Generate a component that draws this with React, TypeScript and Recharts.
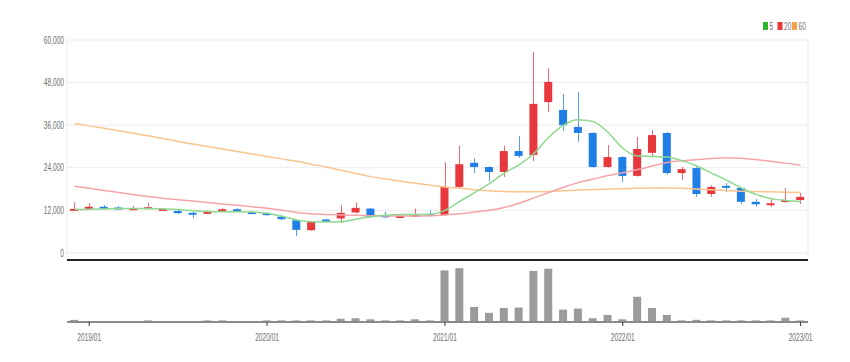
import {
  ComposedChart,
  Bar,
  Line,
  XAxis,
  YAxis,
  CartesianGrid,
  ReferenceLine,
} from "recharts";

const months = [
  "2018/12",
  "2019/01", "2019/02", "2019/03", "2019/04", "2019/05", "2019/06",
  "2019/07", "2019/08", "2019/09", "2019/10", "2019/11", "2019/12",
  "2020/01", "2020/02", "2020/03", "2020/04", "2020/05", "2020/06",
  "2020/07", "2020/08", "2020/09", "2020/10", "2020/11", "2020/12",
  "2021/01", "2021/02", "2021/03", "2021/04", "2021/05", "2021/06",
  "2021/07", "2021/08", "2021/09", "2021/10", "2021/11", "2021/12",
  "2022/01", "2022/02", "2022/03", "2022/04", "2022/05", "2022/06",
  "2022/07", "2022/08", "2022/09", "2022/10", "2022/11", "2022/12",
  "2023/01",
];

const opens = [
  12000, 12400, 13000, 12800, 12300, 12500, 12000, 11800, 11300, 11000,
  11900, 12300, 11500, 11200, 10200, 9200, 6400, 9400, 9700, 11400,
  12500, 10600, 10000, 10300, 11000, 10700, 18600, 25400, 24200, 22800,
  28700, 27600, 42500, 40300, 35500, 33800, 24200, 27000, 21700, 28200,
  33800, 22500, 23900, 16600, 18900, 18300, 14400, 13700, 14400, 14900,
];
const closes = [
  12400, 13000, 12800, 12500, 12600, 12900, 12400, 11200, 10800, 11800,
  12300, 11800, 11200, 10800, 9500, 6500, 8700, 9100, 11300, 12700,
  10100, 10400, 10400, 10800, 10600, 18600, 25000, 24200, 22800, 28700,
  27300, 42000, 48200, 36000, 33800, 24200, 27000, 21700, 29300, 33200,
  22500, 23600, 16600, 18600, 18600, 14400, 13700, 14000, 14900, 15800,
];
const highs = [
  14300, 14000, 13500, 13200, 13200, 14100, 12700, 12200, 11500, 12000,
  12600, 12600, 11700, 11400, 10600, 9400, 9000, 9600, 13400, 14200,
  12600, 11600, 10700, 12500, 12000, 25600, 30200, 26700, 24400, 30200,
  33000, 56600, 52000, 44800, 45300, 34000, 30400, 27300, 32700, 34600,
  34100, 24200, 24200, 19000, 19700, 18600, 15200, 15300, 18300, 16900,
];
const lows = [
  11900, 12200, 12500, 12300, 12100, 12400, 11800, 10900, 9800, 10900,
  11700, 11600, 11000, 10500, 9200, 4700, 6200, 8900, 8400, 11100,
  9900, 9800, 10000, 10200, 10200, 10500, 18300, 22500, 20100, 21400,
  26800, 25800, 39700, 34400, 31300, 24000, 24000, 20000, 21500, 27000,
  22000, 20600, 15800, 15800, 17200, 13800, 13000, 13000, 14200, 13800,
];

const ma5 = [
  12200, 12300, 12400, 12500, 12500, 12500, 12400, 12200, 11900, 11700,
  11600, 11600, 11500, 11200, 10300, 9300, 8800, 8700, 8800, 9500,
  10200, 10600, 10800, 10800, 10900, 12000, 14500, 17000, 19500, 22500,
  24800, 28000, 32500, 36000, 37500, 37000, 34000, 29500, 27300, 27200,
  27000, 26000, 24500, 22500, 20500, 18300, 16500, 15300, 14800, 14500,
];
const ma20 = [
  18800, 18200, 17600, 17000, 16400, 15900, 15400, 15000, 14600, 14200,
  13800, 13400, 13000, 12600, 12000, 11400, 11000, 10800, 10700, 10600,
  10500, 10400, 10400, 10400, 10500, 10700, 11000, 11500, 12000, 12800,
  14000, 15500, 17000, 18500, 19800, 20800, 21800, 22600, 23500, 24500,
  25500, 26000, 26300, 26600, 26800, 26700, 26300, 25800, 25300, 24700,
];
const ma60 = [
  36500, 35800, 35100, 34400, 33700, 33000, 32200, 31400, 30700, 30000,
  29300, 28600, 27900, 27200, 26500, 25800, 25000, 24200, 23300, 22400,
  21500, 20800, 20200, 19600, 19100, 18600, 18200, 17800, 17500, 17300,
  17200, 17200, 17300, 17500, 17700, 17900, 18000, 18100, 18200, 18300,
  18300, 18200, 18000, 17800, 17600, 17400, 17300, 17200, 17100, 17000,
];

const volumes = [
  4, 0, 0, 0, 0, 3, 0, 0, 0, 3,
  3, 0, 0, 3, 3, 3, 3, 3, 6, 7,
  5, 3, 3, 5, 3, 96, 100, 28, 17, 26,
  27, 95, 99, 23, 25, 7, 13, 5, 47, 26,
  13, 3, 4, 3, 3, 3, 3, 3, 8, 3,
];

const yTicks = [0, 12000, 24000, 36000, 48000, 60000];
const yearTicks = ["2019/01", "2020/01", "2021/01", "2022/01", "2023/01"];

const UP = "#e8383d";
const DOWN = "#1f7fe6";
const FONT = '"Liberation Sans", Arial, sans-serif';
const SQUEEZE = 0.6;

const rows = months.map((m, i) => ({
  m,
  open: opens[i],
  close: closes[i],
  high: highs[i],
  low: lows[i],
  ma5: ma5[i],
  ma20: ma20[i],
  ma60: ma60[i],
  vol: volumes[i],
}));

const Candle = (props: any) => {
  const { x, y, width, height, payload } = props;
  if (x == null || y == null) return null;
  const top = Math.min(y, y + height);
  const h = Math.abs(height);
  const { open, close, high, low } = payload;
  const color = close >= open ? UP : DOWN;
  const span = high - low || 1;
  const yOf = (v: number) => top + ((high - v) / span) * h;
  const bTop = yOf(Math.max(open, close));
  const bBot = yOf(Math.min(open, close));
  const cx = Math.round(x + width / 2) + 0.5;
  return (
    <g>
      <line x1={cx} x2={cx} y1={top} y2={top + h} stroke={color} strokeOpacity={0.75} strokeWidth={1} />
      <rect x={x} y={bTop} width={width} height={Math.max(bBot - bTop, 2)} fill={color} />
    </g>
  );
};

// narrow labels, like the original's condensed font
const YTick = ({ x, y, payload }: any) => (
  <text
    transform={`translate(${x},${y}) scale(${SQUEEZE},1)`}
    textAnchor="end"
    dominantBaseline="central"
    fontSize={11}
    fill="#6f6f6f"
    fontFamily={FONT}
  >
    {payload.value.toLocaleString("en-US")}
  </text>
);

const XTick = ({ x, y, payload }: any) => (
  <text
    transform={`translate(${x},${y}) scale(${SQUEEZE},1)`}
    textAnchor="middle"
    dy="0.71em"
    fontSize={11}
    fill="#6f6f6f"
    fontFamily={FONT}
  >
    {payload.value}
  </text>
);

const legendItems = [
  { label: "5", color: "#2db52d" },
  { label: "20", color: "#e8383d" },
  { label: "60", color: "#f5a04a" },
];

const Legend = () => (
  <svg width={60} height={14} style={{ position: "absolute", top: 12, left: 755 }}>
    {legendItems.map((it, i) => {
      const x0 = i * 14.5;
      return (
        <g key={it.label}>
          <rect x={x0} y={2} width={5} height={8} fill={it.color} />
          <text
            transform={`translate(${x0 + 6.5},10) scale(${SQUEEZE},1)`}
            fontSize={11}
            fill="#777"
            fontFamily={FONT}
          >
            {it.label}
          </text>
        </g>
      );
    })}
  </svg>
);

export default function App() {
  return (
    <div style={{ position: "relative", width: 834, height: 346, fontFamily: FONT }}>
      <Legend />

      <div style={{ position: "absolute", top: 0, left: 0 }}>
        <ComposedChart
          width={834}
          height={256}
          data={rows}
          margin={{ top: 32, right: 34, bottom: 4, left: 0 }}
        >
          <CartesianGrid stroke="#ececec" />
          <XAxis dataKey="m" ticks={yearTicks} tick={false} tickLine={false} axisLine={false} height={0} />
          <YAxis
            width={59}
            domain={[-2000, 60000]}
            ticks={yTicks}
            tickSize={0}
            tickMargin={3}
            axisLine={false}
            tickLine={false}
            tick={<YTick />}
          />
          <ReferenceLine y={-2000} stroke="#222" strokeWidth={2} />
          <Bar
            dataKey={(d: any) => [d.low, d.high]}
            barSize={8}
            shape={Candle}
            isAnimationActive={false}
          />
          <Line type="monotone" dataKey="ma60" stroke="#f9c48f" strokeWidth={1.5} dot={false} isAnimationActive={false} />
          <Line type="monotone" dataKey="ma20" stroke="#f4a3a9" strokeWidth={1.5} dot={false} isAnimationActive={false} />
          <Line type="monotone" dataKey="ma5" stroke="#8ed88e" strokeWidth={1.5} dot={false} isAnimationActive={false} />
        </ComposedChart>
      </div>

      <div style={{ position: "absolute", top: 252, left: 0 }}>
        <ComposedChart
          width={834}
          height={94}
          data={rows}
          margin={{ top: 5, right: 34, bottom: 2, left: 59 }}
        >
          <XAxis
            dataKey="m"
            ticks={yearTicks}
            height={30}
            tickSize={4}
            tickMargin={7}
            axisLine={{ stroke: "#8a8a8a", strokeWidth: 2 }}
            tickLine={{ stroke: "#333" }}
            tick={<XTick />}
          />
          <YAxis hide domain={[0, 106]} />
          <Bar dataKey="vol" barSize={8} fill="#9b9b9b" isAnimationActive={false} />
        </ComposedChart>
      </div>
    </div>
  );
}
